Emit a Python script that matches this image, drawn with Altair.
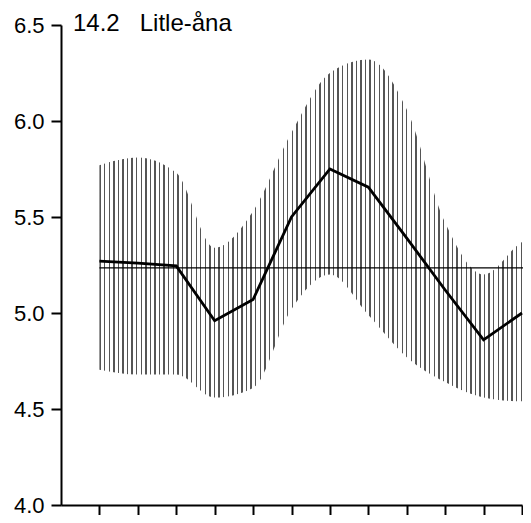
import altair as alt
import pandas as pd

# pH-like values per month
months = list(range(1, 13))
values = [5.27, 5.26, 5.245, 4.96, 5.07, 5.50, 5.75, 5.655, 5.39, 5.12, 4.86, 5.00]

# envelope band (upper / lower), last point is where the band is cut at the right edge
band_x = [1, 2, 3, 4, 5, 6, 7, 8, 9, 10, 11, 12, 12.2]
band_upper = [5.77, 5.81, 5.73, 5.34, 5.53, 5.94, 6.25, 6.32, 6.06, 5.47, 5.20, 5.37, 5.39]
band_lower = [4.705, 4.68, 4.68, 4.56, 4.61, 5.02, 5.20, 4.99, 4.77, 4.64, 4.56, 4.54, 4.54]

mean_value = [5.235]
mean_span = [1, 12.2]

y_ticks = [4.0, 4.5, 5.0, 5.5, 6.0, 6.5]
title_text = ["14.2\u00a0\u00a0 Litle-åna"]

line_df = pd.DataFrame({"month": months, "value": values})
band_df = pd.DataFrame({"month": band_x, "upper": band_upper, "lower": band_lower})
mean_df = pd.DataFrame({"x": [mean_span[0]], "x2": [mean_span[1]], "y": mean_value})
title_df = pd.DataFrame({"t": title_text})

# vertical hatching built as a striped linear gradient
n_stripes = 94
stops = []
for i in range(n_stripes):
    a = i / n_stripes
    b = (i + 0.3) / n_stripes
    c = (i + 1) / n_stripes
    stops += [
        alt.GradientStop(offset=a, color="#555555"),
        alt.GradientStop(offset=b, color="#555555"),
        alt.GradientStop(offset=b, color="#ffffff"),
        alt.GradientStop(offset=c, color="#ffffff"),
    ]
hatch = alt.Gradient(gradient="linear", stops=stops, x1=0, x2=1, y1=0, y2=0)

xscale = alt.Scale(domain=[0, 12], nice=False, zero=False)
yscale = alt.Scale(domain=[4.0, 6.5], nice=False, zero=False)

xaxis = alt.Axis(values=months, labels=False, title=None, grid=False,
                 tickSize=13, tickWidth=2, tickColor="black",
                 domainColor="black", domainWidth=2)
yaxis = alt.Axis(values=y_ticks, format=".1f", title=None, grid=False,
                 tickSize=10, tickWidth=2, tickColor="black",
                 domainColor="black", domainWidth=2,
                 labelFont="Liberation Sans", labelFontSize=22,
                 labelColor="black", labelPadding=7)

area = alt.Chart(band_df).mark_area(color=hatch, interpolate="monotone", clip=False).encode(
    x=alt.X("month:Q", scale=xscale, axis=xaxis),
    y=alt.Y("upper:Q", scale=yscale, axis=yaxis),
    y2="lower:Q",
)

mean_rule = alt.Chart(mean_df).mark_rule(color="black", strokeWidth=1.3).encode(
    x="x:Q", x2="x2:Q", y="y:Q"
)

line = alt.Chart(line_df).mark_line(color="black", strokeWidth=2.8).encode(
    x="month:Q", y="value:Q"
)

title = alt.Chart(title_df).mark_text(
    align="left", baseline="alphabetic", font="Liberation Sans",
    fontSize=24, color="black",
).encode(text="t:N", x=alt.value(12), y=alt.value(6))

chart = alt.layer(area, mean_rule, line, title).properties(
    width=461,
    height=480,
    padding={"left": 53, "top": 17, "right": 1, "bottom": 10},
    autosize=alt.AutoSizeParams(type="none"),
).configure_view(stroke=None)

chart.save("out.html", embed_options={"renderer": "svg", "actions": False})
